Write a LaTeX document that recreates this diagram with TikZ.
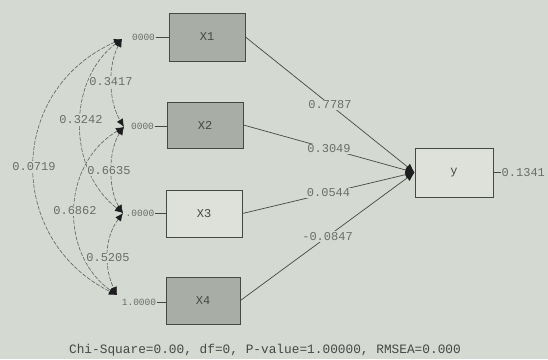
\documentclass[tikz,border=0pt]{standalone}
\usepackage{fontspec}
\setmainfont{Liberation Mono}
\usetikzlibrary{arrows.meta}
\definecolor{bg}{RGB}{212,217,209}
\definecolor{lightbox}{RGB}{221,225,218}
\definecolor{darkbox}{RGB}{168,173,166}
\definecolor{edge}{RGB}{70,72,70}
\definecolor{labelc}{RGB}{105,110,104}
\definecolor{curvec}{RGB}{95,99,94}
\definecolor{headc}{RGB}{30,30,32}
\tikzset{
  varbox/.style={draw=edge, line width=0.9pt, minimum width=#1, inner sep=0pt, font=\fontsize{12}{13}\selectfont, text=edge},
  darkvar/.style={varbox=76pt, fill=darkbox},
  lightvar/.style={varbox=76pt, fill=lightbox},
  vlabel/.style={font=\fontsize{9.5}{10}\selectfont, text=labelc, inner sep=0.5pt},
  plabel/.style={font=\fontsize{12}{13}\selectfont, text=labelc, fill=bg, inner sep=1pt},
  clabel/.style={font=\fontsize{12}{13}\selectfont, text=labelc, fill=bg, inner sep=0.5pt},
  corr/.style={curvec, line width=0.6pt, dash pattern=on 4pt off 1.5pt, {Latex[length=8pt,width=7pt,fill=headc,color=headc]}-{Latex[length=8pt,width=7pt,fill=headc,color=headc]}},
  pathline/.style={edge, line width=0.7pt, -{Latex[length=9pt,width=8pt,fill=headc,color=headc]}},
  tick/.style={edge, line width=0.8pt}
}
\begin{document}
\begin{tikzpicture}[x=1pt,y=-1pt]
\fill[bg] (0,0) rectangle (548,359);
\useasboundingbox (0,0) rectangle (548,359);

% boxes
\node[darkvar, minimum height=48pt] (X1) at (207,37) {X1};
\node[darkvar, minimum height=46pt] (X2) at (205,125) {X2};
\node[lightvar, minimum height=47pt] (X3) at (204,213.5) {X3};
\node[darkvar, minimum width=74pt, minimum height=47pt] (X4) at (203,300.5) {X4};
\node[varbox=78pt, fill=lightbox, minimum height=49pt] (Y) at (454,172.5) {y};

% variance labels
\node[vlabel] (v1) at (143.5,37) {0000};
\node[vlabel] (v2) at (142.5,126) {0000};
\node[vlabel] (v3) at (140,213) {.0000};
\node[vlabel] (v4) at (139,302) {1.0000};
\draw[tick] (v1.east) -- (X1.west |- v1.east);
\draw[tick] (v2.east) -- (X2.west |- v2.east);
\draw[tick] (v3.east) -- (X3.west |- v3.east);
\draw[tick] (v4.east) -- (X4.west |- v4.east);

% endpoints for correlation arcs
\coordinate (a1) at (122,39);
\coordinate (a2) at (124,127);
\coordinate (a3) at (123,213);
\coordinate (a4) at (117,295);

% correlation arcs
\draw[corr] (a1) .. controls (108,65) and (108,100) .. (a2);
\draw[corr] (a1) .. controls (67,80) and (67,170) .. (a3);
\draw[corr] (a1) .. controls (6,90) and (6,240) .. (a4);
\draw[corr] (a2) .. controls (108,150) and (108,190) .. (a3);
\draw[corr] (a2) .. controls (60,165) and (60,255) .. (a4);
\draw[corr] (a3) .. controls (104,238) and (104,268) .. (a4);

% correlation labels
\node[clabel] (c12) at (111,82) {0.3417};
\node[clabel] (c13) at (81,120) {0.3242};
\node[clabel] (c14) at (34,167) {0.0719};
\node[clabel] (c23) at (109,171) {0.6635};
\node[clabel] (c24) at (75,211) {0.6862};
\node[clabel] (c34) at (108,258) {0.5205};

% paths to y
\draw[pathline] (X1.east) -- node[plabel] {0.7787} (Y.west);
\draw[pathline] (X2.east) -- node[plabel] {0.3049} (Y.west);
\draw[pathline] (X3.east) -- node[plabel] {0.0544} (Y.west);
\draw[pathline] (X4.east) -- node[plabel] {-0.0847} (Y.west);

% error of y
\node[clabel, anchor=west] (ey) at (501,172.5) {0.1341};
\draw[tick] (Y.east) -- (ey.west);

% fit statistics
\node[font=\fontsize{12.8}{14}\selectfont, text=edge, inner sep=0pt] (fit) at (265,350) {Chi-Square=0.00, df=0, P-value=1.00000, RMSEA=0.000};
\end{tikzpicture}
\end{document}
